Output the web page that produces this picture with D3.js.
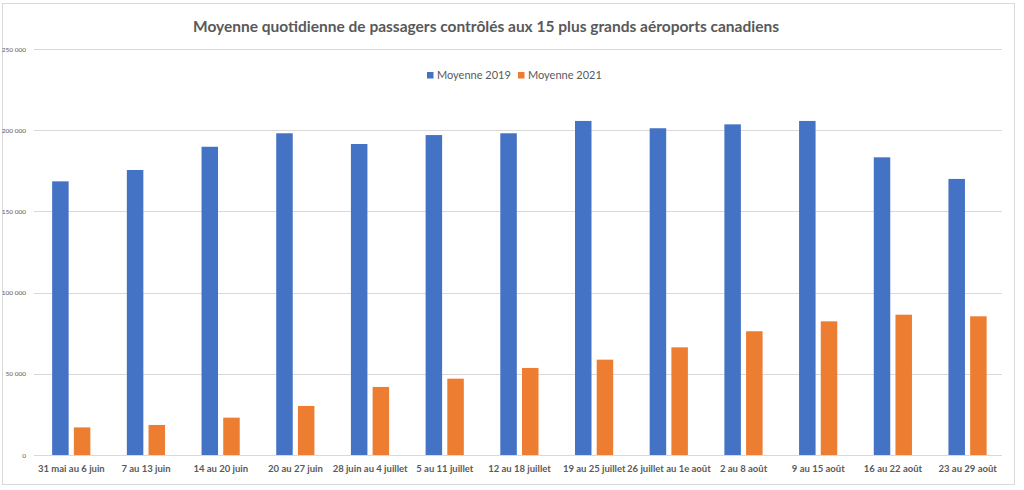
<!DOCTYPE html>
<html><head><meta charset="utf-8">
<script src="https://cdn.jsdelivr.net/npm/d3@7"></script>
<style>
html,body{margin:0;padding:0;background:#fff;}
svg{display:block;}
</style></head>
<body>
<svg id="chart" width="1024" height="490"></svg>
<script>
const categories = ["31 mai au 6 juin","7 au 13 juin","14 au 20 juin","20 au 27 juin","28 juin au 4 juillet","5 au 11 juillet","12 au 18 juillet","19 au 25 juillet","26 juillet au 1e août","2 au 8 août","9 au 15 août","16 au 22 août","23 au 29 août"];
const moyenne2019 = [168500,175500,189800,198100,191500,197000,198100,205700,201200,203600,205700,183300,170000];
const moyenne2021 = [17000,18500,23000,30200,41900,47000,53600,58700,66300,76200,82300,86400,85400];
const seriesNames = ["Moyenne 2019","Moyenne 2021"];
const yTicks = [0,50000,100000,150000,200000,250000];
const title = "Moyenne quotidienne de passagers contrôlés aux 15 plus grands aéroports canadiens";

const colors = ["#4472c4","#ed7d31"];
const textColor = "#595959";
const svg = d3.select("#chart");

svg.append("rect").attr("x",2.5).attr("y",3.5).attr("width",1012).attr("height",481)
  .attr("fill","#fff").attr("stroke","#d9d9d9").attr("stroke-width",1);

const x = d3.scaleBand().domain(categories).range([34,1005]);
const y = d3.scaleLinear().domain([0,250000]).range([455,49]);

const fmt = v => d3.format(",")(v).replace(/,/g," ");

// grid
svg.append("g").selectAll("line").data(yTicks).join("line")
  .attr("x1",34).attr("x2",1002)
  .attr("y1",d=>Math.round(y(d))+0.5).attr("y2",d=>Math.round(y(d))+0.5)
  .attr("stroke","#d9d9d9").attr("stroke-width",1);

// y labels
svg.append("g").selectAll("text").data(yTicks).join("text")
  .attr("x",26).attr("y",d=>y(d)+2.5).attr("text-anchor","end")
  .attr("font-family","Lato, 'Liberation Sans', sans-serif").attr("font-size",6.5)
  .attr("fill",textColor).text(fmt);

const barW = 16.5;
const series = [moyenne2019, moyenne2021];
const offsets = [-19.2, 2.5];
series.forEach((vals,si)=>{
  svg.append("g").selectAll("rect").data(vals).join("rect")
    .attr("x",(d,i)=>x(categories[i])+x.bandwidth()/2+offsets[si])
    .attr("width",barW)
    .attr("y",d=>y(d))
    .attr("height",d=>y(0)-y(d))
    .attr("fill",colors[si]);
});

// x labels
svg.append("g").selectAll("text").data(categories).join("text")
  .attr("x",d=>x(d)+x.bandwidth()/2).attr("y",472)
  .attr("text-anchor","middle")
  .attr("font-family","Lato, 'Liberation Sans', sans-serif").attr("font-size",9.5).attr("font-weight",700)
  .attr("fill",textColor).text(d=>d);

// title
svg.append("text").attr("x",486).attr("y",32).attr("text-anchor","middle")
  .attr("font-family","Lato, 'Liberation Sans', sans-serif").attr("font-size",15.5).attr("font-weight",700)
  .attr("fill",textColor).text(title);

// legend
const legX = [427,518];
seriesNames.forEach((n,i)=>{
  svg.append("rect").attr("x",legX[i]).attr("y",72).attr("width",6.5).attr("height",6.5).attr("fill",colors[i]);
  svg.append("text").attr("x",legX[i]+10).attr("y",79).attr("font-family","Lato, 'Liberation Sans', sans-serif")
    .attr("font-size",11).attr("fill",textColor).text(n);
});
</script>
</body></html>
